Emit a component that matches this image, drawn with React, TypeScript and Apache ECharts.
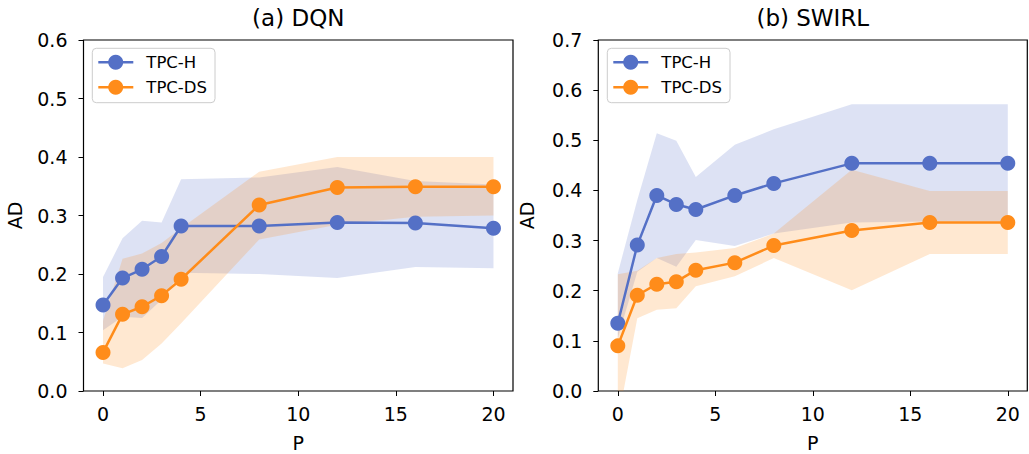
import React, { useEffect, useRef } from "react";
import * as echarts from "echarts";

const FONT = "DejaVu Sans";
const BLUE = "#5470c6";
const ORANGE = "#ff8c1a";
const BLUE_FILL = "rgba(84,112,198,0.2)";
const ORANGE_FILL = "rgba(255,140,26,0.2)";

const seriesNames = ["TPC-H", "TPC-DS"];
const titles = ["(a) DQN", "(b) SWIRL"];
const xTicks = [0, 5, 10, 15, 20];

// (a) DQN
const pDqn = [0, 1, 2, 3, 4, 8, 12, 16, 20];
const dqnH = [0.147, 0.193, 0.208, 0.23, 0.282, 0.282, 0.288, 0.287, 0.278];
const dqnHLo = [0.104, 0.127, 0.125, 0.156, 0.202, 0.2, 0.193, 0.212, 0.21];
const dqnHHi = [0.195, 0.261, 0.291, 0.288, 0.362, 0.365, 0.383, 0.359, 0.353];
const dqnDS = [0.066, 0.131, 0.144, 0.163, 0.191, 0.318, 0.348, 0.349, 0.349];
const dqnDSLo = [0.047, 0.039, 0.053, 0.081, 0.116, 0.259, 0.284, 0.298, 0.3];
const dqnDSHi = [0.12, 0.226, 0.235, 0.253, 0.278, 0.375, 0.4, 0.4, 0.4];

// (b) SWIRL
const pSwirl = [0, 1, 2, 3, 4, 6, 8, 12, 16, 20];
const swH = [0.135, 0.291, 0.39, 0.372, 0.362, 0.39, 0.414, 0.454, 0.454, 0.454];
const swHLo = [0.105, 0.238, 0.265, 0.248, 0.301, 0.289, 0.314, 0.336, 0.338, 0.338];
const swHHi = [0.235, 0.381, 0.514, 0.499, 0.427, 0.491, 0.522, 0.572, 0.572, 0.572];
const swDS = [0.09, 0.191, 0.213, 0.218, 0.241, 0.256, 0.29, 0.32, 0.336, 0.336];
const swDSLo = [-0.06, 0.145, 0.162, 0.165, 0.209, 0.229, 0.265, 0.201, 0.273, 0.273];
const swDSHi = [0.233, 0.24, 0.265, 0.273, 0.276, 0.285, 0.314, 0.441, 0.399, 0.399];

function band(gi: number, xs: number[], lo: number[], hi: number[], fill: string) {
  return {
    type: "custom",
    xAxisIndex: gi,
    yAxisIndex: gi,
    clip: true,
    silent: true,
    z: 1,
    data: xs.map((x, i) => [x, lo[i], hi[i]]),
    encode: { x: 0, y: [1, 2] },
    renderItem: (params: any, api: any) => {
      if (params.dataIndex !== 0) return null;
      const pts: number[][] = [];
      xs.forEach((x, i) => pts.push(api.coord([x, hi[i]])));
      for (let i = xs.length - 1; i >= 0; i--) pts.push(api.coord([xs[i], lo[i]]));
      return { type: "polygon", shape: { points: pts }, style: { fill } };
    },
  };
}

function line(gi: number, name: string, xs: number[], ys: number[], color: string, z: number) {
  return {
    type: "line",
    name,
    xAxisIndex: gi,
    yAxisIndex: gi,
    z,
    data: xs.map((x, i) => [x, ys[i]]),
    symbol: "circle",
    symbolSize: 15,
    lineStyle: { width: 2.5, color },
    itemStyle: { color },
  };
}

function xAxis(gi: number) {
  return {
    type: "value",
    gridIndex: gi,
    min: -1,
    max: 21,
    name: "P",
    nameLocation: "middle",
    nameGap: 42,
    nameTextStyle: { fontSize: 19, color: "#000", fontFamily: FONT },
    axisLine: { show: false, onZero: false },
    axisTick: { show: true, length: 5, customValues: xTicks, lineStyle: { color: "#000", width: 1 } },
    axisLabel: { customValues: xTicks, fontSize: 19, color: "#000", fontFamily: FONT, margin: 13 },
    splitLine: { show: false },
  };
}

function yAxis(gi: number, max: number, gap: number) {
  return {
    type: "value",
    gridIndex: gi,
    min: 0,
    max,
    interval: 0.1,
    name: "AD",
    nameLocation: "middle",
    nameGap: gap,
    nameTextStyle: { fontSize: 19, color: "#000", fontFamily: FONT },
    axisLine: { show: false, onZero: false },
    axisTick: { show: true, length: 5, lineStyle: { color: "#000", width: 1 } },
    axisLabel: {
      fontSize: 19,
      color: "#000",
      fontFamily: FONT,
      margin: 16,
      formatter: (v: number) => v.toFixed(1),
    },
    splitLine: { show: false },
  };
}

function legend(x: number, y: number) {
  const rows = [
    { name: seriesNames[0], color: BLUE, dy: 14 },
    { name: seriesNames[1], color: ORANGE, dy: 39 },
  ];
  const children: any[] = [
    {
      type: "rect",
      shape: { x, y, width: 122.7, height: 54.4, r: 4 },
      style: { fill: "rgba(255,255,255,0.8)", stroke: "#cccccc", lineWidth: 1 },
    },
  ];
  rows.forEach((r) => {
    children.push({
      type: "line",
      shape: { x1: x + 6, y1: y + r.dy, x2: x + 41, y2: y + r.dy },
      style: { stroke: r.color, lineWidth: 2.5 },
    });
    children.push({
      type: "circle",
      shape: { cx: x + 23.4, cy: y + r.dy, r: 7.5 },
      style: { fill: r.color },
    });
    children.push({
      type: "text",
      x: x + 54,
      y: y + r.dy,
      style: {
        text: r.name,
        fontSize: 16.5,
        fontFamily: FONT,
        fill: "#000",
        align: "left",
        verticalAlign: "middle",
      },
    });
  });
  return { type: "group", z: 100, children };
}

export default function App() {
  const ref = useRef<HTMLDivElement>(null);
  useEffect(() => {
    if (!ref.current) return;
    const chart = echarts.init(ref.current, null, { renderer: "svg" });
    const gridBase = {
      top: 40,
      height: 351,
      show: true,
      borderColor: "#000",
      borderWidth: 1.2,
      backgroundColor: "transparent",
      containLabel: false,
      outerBoundsMode: "none",
    };
    chart.setOption({
      animation: false,
      backgroundColor: "#ffffff",
      grid: [
        { ...gridBase, left: 83.5, width: 429.5 },
        { ...gridBase, left: 598.3, width: 429 },
      ],
      xAxis: [xAxis(0), xAxis(1)],
      yAxis: [yAxis(0, 0.6, 59), yAxis(1, 0.7, 62)],
      series: [
        band(0, pDqn, dqnHLo, dqnHHi, BLUE_FILL),
        line(0, seriesNames[0], pDqn, dqnH, BLUE, 3),
        band(0, pDqn, dqnDSLo, dqnDSHi, ORANGE_FILL),
        line(0, seriesNames[1], pDqn, dqnDS, ORANGE, 4),
        band(1, pSwirl, swHLo, swHHi, BLUE_FILL),
        line(1, seriesNames[0], pSwirl, swH, BLUE, 3),
        band(1, pSwirl, swDSLo, swDSHi, ORANGE_FILL),
        line(1, seriesNames[1], pSwirl, swDS, ORANGE, 4),
      ],
      graphic: [
        {
          type: "text",
          x: 298.3,
          y: 18,
          style: { text: titles[0], fontSize: 23, fontFamily: FONT, fill: "#000", align: "center", verticalAlign: "middle" },
        },
        {
          type: "text",
          x: 812.8,
          y: 18,
          style: { text: titles[1], fontSize: 23, fontFamily: FONT, fill: "#000", align: "center", verticalAlign: "middle" },
        },
        legend(92.3, 48.3),
        legend(607.3, 48.3),
      ],
    });
    return () => chart.dispose();
  }, []);
  return <div ref={ref} style={{ position: "absolute", left: 0, top: 0, width: 1029, height: 454 }} />;
}
